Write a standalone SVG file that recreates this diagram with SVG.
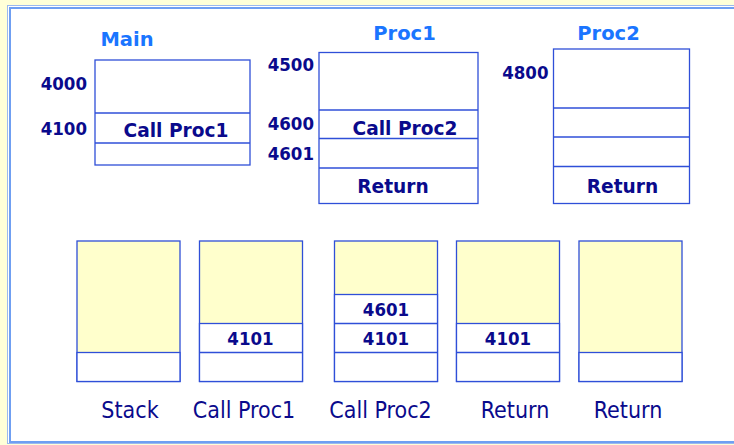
<svg xmlns="http://www.w3.org/2000/svg" width="734" height="445" viewBox="0 0 734 445">
<style>
.box{fill:#ffffff;stroke:#2f4fd8;stroke-width:1.3}
.ybox{fill:#ffffcc;stroke:#2f4fd8;stroke-width:1.3}
.div{stroke:#2f4fd8;stroke-width:1.3}
.n{font-family:"DejaVu Sans Condensed","DejaVu Sans",Verdana,sans-serif;font-weight:bold;font-size:18.5px;fill:#0a0a8c}
.t{font-family:"DejaVu Sans",Verdana,sans-serif;font-weight:bold;font-size:18.6px;fill:#0a0a8c}
.title{font-family:"DejaVu Sans",Verdana,sans-serif;font-weight:bold;font-size:19.5px;fill:#1a75ff}
.cap{font-family:"DejaVu Sans Condensed","DejaVu Sans",Verdana,sans-serif;font-size:23px;fill:#0a0a8c}
.r{text-anchor:end}
.m{text-anchor:middle}
</style>
<rect x="0" y="0" width="734" height="445" fill="#ffffd8"/>
<rect x="7.5" y="5.5" width="740" height="438" fill="#ffffff" stroke="#9bb8ee" stroke-width="1"/>
<rect x="10" y="8" width="740" height="434" fill="none" stroke="#6f9ff2" stroke-width="2"/>

<g id="main">
<text class="title m" x="127" y="46">Main</text>
<rect class="box" x="95" y="60" width="155" height="105"/>
<line class="div" x1="95" y1="113" x2="250" y2="113"/>
<line class="div" x1="95" y1="143" x2="250" y2="143"/>
<text class="n r" x="87" y="90">4000</text>
<text class="n r" x="87" y="135">4100</text>
<text class="t m" x="176" y="137">Call Proc1</text>
</g>

<g id="proc1">
<text class="title m" x="404.5" y="40">Proc1</text>
<rect class="box" x="319" y="52.5" width="159" height="151"/>
<line class="div" x1="319" y1="110" x2="478" y2="110"/>
<line class="div" x1="319" y1="138.5" x2="478" y2="138.5"/>
<line class="div" x1="319" y1="168" x2="478" y2="168"/>
<text class="n r" x="314" y="71">4500</text>
<text class="n r" x="314" y="129.5">4600</text>
<text class="n r" x="314" y="159.5">4601</text>
<text class="t m" x="405" y="135">Call Proc2</text>
<text class="t m" x="393" y="192.5">Return</text>
</g>

<g id="proc2">
<text class="title m" x="608.5" y="40">Proc2</text>
<rect class="box" x="553.5" y="49" width="136" height="154.5"/>
<line class="div" x1="553.5" y1="108" x2="689.5" y2="108"/>
<line class="div" x1="553.5" y1="137" x2="689.5" y2="137"/>
<line class="div" x1="553.5" y1="166.5" x2="689.5" y2="166.5"/>
<text class="n r" x="548.5" y="78.5">4800</text>
<text class="t m" x="622.5" y="192.5">Return</text>
</g>

<g id="stack0">
<rect class="ybox" x="77" y="241" width="103" height="140.5"/>
<rect class="box" x="77" y="352.5" width="103" height="29"/>
<text class="cap m" x="130" y="417.5">Stack</text>
</g>

<g id="stack1">
<rect class="ybox" x="199.5" y="241" width="103" height="140.5"/>
<rect class="box" x="199.5" y="323.5" width="103" height="58"/>
<line class="div" x1="199.5" y1="352.5" x2="302.5" y2="352.5"/>
<text class="n m" x="250.5" y="345">4101</text>
<text class="cap m" x="244" y="417.5">Call Proc1</text>
</g>

<g id="stack2">
<rect class="ybox" x="334.5" y="241" width="103" height="140.5"/>
<rect class="box" x="334.5" y="294.5" width="103" height="87"/>
<line class="div" x1="334.5" y1="323.5" x2="437.5" y2="323.5"/>
<line class="div" x1="334.5" y1="352.5" x2="437.5" y2="352.5"/>
<text class="n m" x="386" y="316">4601</text>
<text class="n m" x="386" y="345">4101</text>
<text class="cap m" x="380.5" y="417.5">Call Proc2</text>
</g>

<g id="stack3">
<rect class="ybox" x="456.5" y="241" width="103" height="140.5"/>
<rect class="box" x="456.5" y="323.5" width="103" height="58"/>
<line class="div" x1="456.5" y1="352.5" x2="559.5" y2="352.5"/>
<text class="n m" x="508" y="345">4101</text>
<text class="cap m" x="515" y="417.5">Return</text>
</g>

<g id="stack4">
<rect class="ybox" x="579" y="241" width="103" height="140.5"/>
<rect class="box" x="579" y="352.5" width="103" height="29"/>
<text class="cap m" x="628" y="417.5">Return</text>
</g>

<g id="connectors"></g>
</svg>
